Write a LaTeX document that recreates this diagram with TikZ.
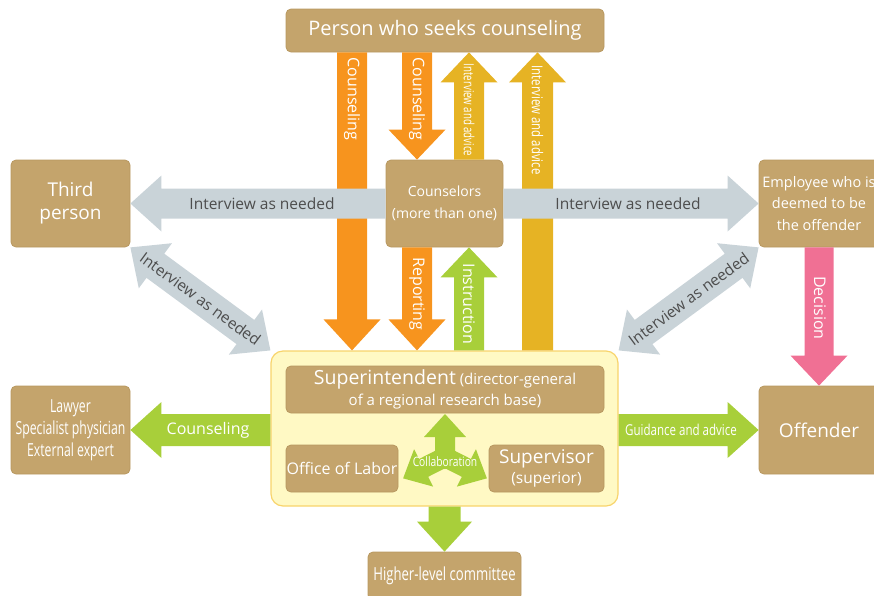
\documentclass[tikz,border=0pt]{standalone}
\usepackage{fontspec}
\setmainfont{Open Sans}
\usepackage{graphicx}
\usetikzlibrary{calc}
\definecolor{boxtan}{HTML}{C4A46C}
\definecolor{boxedge}{HTML}{B89860}
\definecolor{arrorange}{HTML}{F7941E}
\definecolor{arrgold}{HTML}{E6B324}
\definecolor{arrgreen}{HTML}{A8CF3A}
\definecolor{arrgray}{HTML}{C9D3D8}
\definecolor{arrpink}{HTML}{F07094}
\definecolor{panelfill}{HTML}{FFF9C4}
\definecolor{paneledge}{HTML}{F8D46C}
\definecolor{labelgray}{HTML}{4D4D4D}
\newcommand\squeeze[2]{\scalebox{#1}[1]{#2}}
% block arrow: [style](start)(tip)(shaft half:head half:head length)
\def\blockarrow[#1](#2)(#3)(#4:#5:#6){\coordinate (ba-s) at (#2); \coordinate (ba-e) at (#3); \coordinate (ba-h) at ($(ba-e)!#6!(ba-s)$); \fill[#1] ($(ba-s)!#4!90:(ba-e)$) -- ($(ba-h)!#4!90:(ba-e)$) -- ($(ba-h)!#5!90:(ba-e)$) -- (ba-e) -- ($(ba-h)!#5!-90:(ba-e)$) -- ($(ba-h)!#4!-90:(ba-e)$) -- ($(ba-s)!#4!-90:(ba-e)$) -- cycle;}
\def\doublearrow[#1](#2)(#3)(#4:#5:#6){\coordinate (ba-s) at (#2); \coordinate (ba-e) at (#3); \coordinate (ba-h) at ($(ba-e)!#6!(ba-s)$); \coordinate (ba-g) at ($(ba-s)!#6!(ba-e)$); \fill[#1] (ba-s) -- ($(ba-g)!#5!90:(ba-e)$) -- ($(ba-g)!#4!90:(ba-e)$) -- ($(ba-h)!#4!90:(ba-e)$) -- ($(ba-h)!#5!90:(ba-e)$) -- (ba-e) -- ($(ba-h)!#5!-90:(ba-e)$) -- ($(ba-h)!#4!-90:(ba-e)$) -- ($(ba-g)!#4!-90:(ba-e)$) -- ($(ba-g)!#5!-90:(ba-e)$) -- cycle;}
\tikzset{
  tanbox/.style={rounded corners=5pt, fill=boxtan, draw=boxedge, line width=0.8pt, text=white, align=center, inner sep=0pt},
  whitelabel/.style={text=white, inner sep=0pt, font=\fontsize{16}{18}\selectfont},
  graylabel/.style={text=labelgray, inner sep=0pt, font=\fontsize{15.5}{18}\selectfont}
}
\begin{document}
\begin{tikzpicture}[x=1pt, y=1pt]
			%%%%% START %%%%%
			\useasboundingbox (0,0) rectangle (874,-595);
			
			\node[rounded corners=12pt, fill=panelfill, draw=paneledge, line width=1.2pt, minimum width=347pt, minimum height=155pt, inner sep=0pt] (panel) at (444.5,-428.5) {};
			
			\node[tanbox, minimum width=318pt, minimum height=43pt, font=\fontsize{20}{22}\selectfont] (seeker) at (445,-30.5) {Person who seeks counseling};
			\node[tanbox, minimum width=119pt, minimum height=87pt, font=\fontsize{19}{23}\selectfont] (third) at (70.5,-203.5) {Third\\person};
			\node[tanbox, minimum width=117pt, minimum height=87pt, font=\fontsize{14}{22}\selectfont] (counselors) at (444.5,-203.5) {Counselors\\(more than one)};
			\node[tanbox, minimum width=120pt, minimum height=87pt, font=\fontsize{14.5}{21.5}\selectfont] (accused) at (819,-203.5) {Employee who is\\deemed to be\\the offender};
			\node[tanbox, minimum width=119pt, minimum height=88pt, font=\fontsize{18}{22}\selectfont] (expert) at (70.5,-430) {\squeeze{0.68}{\begin{tabular}{@{}c@{}}Lawyer\\Specialist physician\\External expert\end{tabular}}};
			\node[tanbox, minimum width=120pt, minimum height=88pt, font=\fontsize{19}{22}\selectfont] (offender) at (819,-430) {Offender};
			\node[tanbox, minimum width=318pt, minimum height=47pt, font=\fontsize{15}{21}\selectfont] (superintendent) at (445,-389.5) {{\fontsize{19.5}{21}\selectfont Superintendent} (director-general\\of a regional research base)};
			\node[tanbox, minimum width=112pt, minimum height=47pt, font=\fontsize{16}{18}\selectfont] (labor) at (342,-468.5) {Office of Labor};
			\node[tanbox, minimum width=115pt, minimum height=47pt, font=\fontsize{15.5}{20}\selectfont] (supervisor) at (546.5,-468.5) {{\fontsize{19}{20}\selectfont Supervisor}\\(superior)};
			\node[tanbox, minimum width=153pt, minimum height=48pt, font=\fontsize{18}{20}\selectfont] (committee) at (444.5,-576) {\squeeze{0.73}{Higher-level committee}};
			
			\coordinate (c1) at (352,0);
			\coordinate (c2) at (417,0);
			\coordinate (c3) at (469,0);
			\coordinate (c4) at (537.5,0);
			
			\blockarrow[arrorange](seeker.south -| c1)(panel.north -| c1)(15pt:28.5pt:31pt)
			\blockarrow[arrorange](seeker.south -| c2)(counselors.north -| c2)(15pt:28.5pt:30pt)
			\blockarrow[arrgold](counselors.north -| c3)(seeker.south -| c3)(15pt:28.5pt:30pt)
			\blockarrow[arrgold](panel.north -| c4)(seeker.south -| c4)(15.5pt:28.5pt:30pt)
			\blockarrow[arrorange](counselors.south -| c2)(panel.north -| c2)(15pt:28.5pt:31pt)
			\blockarrow[arrgreen](panel.north -| c3)(counselors.south -| c3)(15pt:28.5pt:30pt)
			
			\blockarrow[arrgray](counselors.west)(third.east)(15pt:28pt:31pt)
			\blockarrow[arrgray](counselors.east)(accused.west)(15pt:28pt:31pt)
			\doublearrow[arrgray](third.south east)(panel.north west)(15pt:28pt:31pt)
			\doublearrow[arrgray](accused.south west)(panel.north east)(15pt:28pt:31pt)
			
			\blockarrow[arrpink](accused.south)(offender.north)(14.5pt:28.5pt:30pt)
			\blockarrow[arrgreen](panel.west |- expert.east)(expert.east)(16pt:28pt:31pt)
			\blockarrow[arrgreen](panel.east |- offender.west)(offender.west)(16pt:28pt:31pt)
			\blockarrow[arrgreen](panel.south)(committee.north)(16pt:27.5pt:30pt)
			
			\coordinate (collab) at (445,-457);
			\coordinate (cl-up) at ($(collab)+(90:43)$);
			\coordinate (cl-left) at ($(collab)+(207:47)$);
			\coordinate (cl-right) at ($(collab)+(333:47)$);
			\fill[arrgreen] (collab) circle (12);
			\blockarrow[arrgreen](collab)(cl-up)(10pt:21pt:23pt)
			\blockarrow[arrgreen](collab)(cl-left)(10pt:21pt:23pt)
			\blockarrow[arrgreen](collab)(cl-right)(10pt:21pt:23pt)
			
			\node[whitelabel, rotate=-90] (lb-coun1) at (352,-99) {Counseling};
			\node[whitelabel, rotate=-90] (lb-coun2) at (417,-99) {Counseling};
			\node[whitelabel, rotate=-90, font=\fontsize{14}{16}\selectfont] (lb-adv1) at (469,-110) {\squeeze{0.69}{Interview and advice}};
			\node[whitelabel, rotate=-90, font=\fontsize{15}{16}\selectfont] (lb-adv2) at (537.5,-120) {\squeeze{0.76}{Interview and advice}};
			\node[whitelabel, rotate=-90] (lb-rep) at (417,-294) {Reporting};
			\node[whitelabel, rotate=-90] (lb-ins) at (469,-304) {Instruction};
			\node[whitelabel, rotate=-90] (lb-dec) at (820,-308) {Decision};
			\node[graylabel] (lb-int1) at (262,-204) {Interview as needed};
			\node[graylabel] (lb-int2) at (628,-204) {Interview as needed};
			\path (third.south east) -- (panel.north west) node[graylabel, midway, sloped] (lb-int3) {Interview as needed};
			\path (panel.north east) -- (accused.south west) node[graylabel, midway, sloped] (lb-int4) {Interview as needed};
			\node[whitelabel] (lb-coun3) at (208,-430) {Counseling};
			\node[whitelabel, font=\fontsize{15}{16}\selectfont] (lb-guide) at (681,-430) {\squeeze{0.77}{Guidance and advice}};
			\node[whitelabel, font=\fontsize{13}{14}\selectfont] (lb-collab) at (445,-462) {\squeeze{0.79}{Collaboration}};
			%%%%% END %%%%%
\end{tikzpicture}
\end{document}
